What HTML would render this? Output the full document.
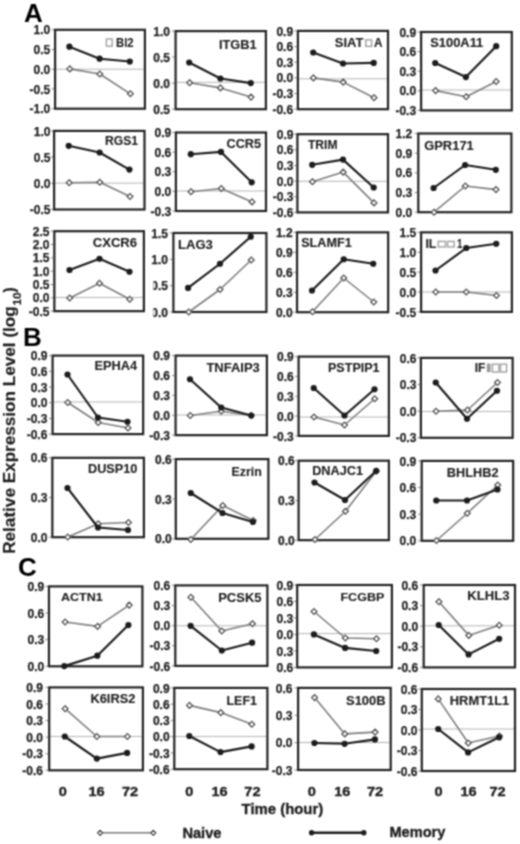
<!DOCTYPE html>
<html><head><meta charset="utf-8"><title>Figure</title>
<style>
html,body{margin:0;padding:0;background:#fff;}
body{width:520px;height:844px;overflow:hidden;}
svg{display:block;}
text{font-family:"Liberation Sans",sans-serif;font-weight:bold;stroke-width:0.35px;}
.t{font-size:12px;fill:#1e1e1e;stroke:#1e1e1e;stroke-width:0.25px;text-anchor:end;}
.tt{font-size:12px;fill:#1e1e1e;stroke:#1e1e1e;stroke-width:0.1px;}
.xl{font-size:13px;fill:#1e1e1e;stroke:#1e1e1e;text-anchor:middle;}
.sec{font-size:26px;fill:#000;}
.ax{font-size:14px;fill:#1e1e1e;stroke:#1e1e1e;}
.yl{font-size:16px;fill:#1e1e1e;stroke:#1e1e1e;stroke-width:0.15px;}
</style></head>
<body>
<svg width="520" height="844" viewBox="0 0 520 844">
<defs><filter id="bl" color-interpolation-filters="sRGB" x="0" y="0" width="520" height="844" filterUnits="userSpaceOnUse"><feConvolveMatrix order="3" kernelMatrix="1 2 1 2 4 2 1 2 1" divisor="16" edgeMode="duplicate"/></filter></defs><g filter="url(#bl)"><rect width="520" height="844" fill="#fff"/>
<line x1="56.2" y1="69.2" x2="143.8" y2="69.2" stroke="#b4b4b4" stroke-width="1.0"/>
<line x1="51.5" y1="29.8" x2="54" y2="29.8" stroke="#666" stroke-width="0.8"/>
<text x="50.3" y="34.4" class="t">1.0</text>
<line x1="51.5" y1="49.53" x2="54" y2="49.53" stroke="#666" stroke-width="0.8"/>
<text x="50.3" y="54.13" class="t">0.5</text>
<line x1="51.5" y1="69.25" x2="54" y2="69.25" stroke="#666" stroke-width="0.8"/>
<text x="50.3" y="73.85" class="t">0.0</text>
<line x1="51.5" y1="88.98" x2="54" y2="88.98" stroke="#666" stroke-width="0.8"/>
<text x="50.3" y="93.58" class="t">-0.5</text>
<line x1="51.5" y1="108.7" x2="54" y2="108.7" stroke="#666" stroke-width="0.8"/>
<text x="50.3" y="113.3" class="t">-1.0</text>
<rect x="55.1" y="29.8" width="89.8" height="78.9" fill="none" stroke="#222" stroke-width="2.2"/>
<rect x="106.4" y="39" width="5.8" height="7.2" fill="none" stroke="#a0a0a0" stroke-width="1.4"/>
<text x="116" y="46.52" class="tt" style="font-size:12px" textLength="17.6" lengthAdjust="spacingAndGlyphs">Bl2</text>
<polyline points="69.8,68.9 99.8,74 130.4,93.8" fill="none" stroke="#7e7e7e" stroke-width="1.6" stroke-linejoin="round"/>
<path d="M69.8 66L72.7 68.9L69.8 71.8L66.9 68.9Z" fill="#fff" stroke="#505050" stroke-width="1.3"/>
<path d="M99.8 71.1L102.7 74L99.8 76.9L96.9 74Z" fill="#fff" stroke="#505050" stroke-width="1.3"/>
<path d="M130.4 90.9L133.3 93.8L130.4 96.7L127.5 93.8Z" fill="#fff" stroke="#505050" stroke-width="1.3"/>
<polyline points="69.4,46.7 99.6,58.7 129.8,61.5" fill="none" stroke="#1c1c1c" stroke-width="2.15" stroke-linejoin="round"/>
<circle cx="69.4" cy="46.7" r="3.1" fill="#1c1c1c"/>
<circle cx="99.6" cy="58.7" r="3.1" fill="#1c1c1c"/>
<circle cx="129.8" cy="61.5" r="3.1" fill="#1c1c1c"/>
<line x1="176.7" y1="82.3" x2="264.8" y2="82.3" stroke="#b4b4b4" stroke-width="1.0"/>
<line x1="172" y1="31.1" x2="174.5" y2="31.1" stroke="#666" stroke-width="0.8"/>
<text x="169.9" y="35.7" class="t">1.0</text>
<line x1="172" y1="57.13" x2="174.5" y2="57.13" stroke="#666" stroke-width="0.8"/>
<text x="169.9" y="61.73" class="t">0.5</text>
<line x1="172" y1="83.17" x2="174.5" y2="83.17" stroke="#666" stroke-width="0.8"/>
<text x="169.9" y="87.77" class="t">0.0</text>
<line x1="172" y1="109.2" x2="174.5" y2="109.2" stroke="#666" stroke-width="0.8"/>
<text x="169.9" y="113.8" class="t">0.5</text>
<rect x="175.6" y="31.1" width="90.3" height="78.1" fill="none" stroke="#222" stroke-width="2.2"/>
<text x="218.9" y="48.82" class="tt" style="font-size:12px" textLength="37.8" lengthAdjust="spacingAndGlyphs">ITGB1</text>
<polyline points="189.6,82.7 220.4,87.9 251,97.1" fill="none" stroke="#7e7e7e" stroke-width="1.6" stroke-linejoin="round"/>
<path d="M189.6 79.8L192.5 82.7L189.6 85.6L186.7 82.7Z" fill="#fff" stroke="#505050" stroke-width="1.3"/>
<path d="M220.4 85L223.3 87.9L220.4 90.8L217.5 87.9Z" fill="#fff" stroke="#505050" stroke-width="1.3"/>
<path d="M251 94.2L253.9 97.1L251 100L248.1 97.1Z" fill="#fff" stroke="#505050" stroke-width="1.3"/>
<polyline points="189.2,62.5 220.4,78.5 250.8,83.1" fill="none" stroke="#1c1c1c" stroke-width="2.15" stroke-linejoin="round"/>
<circle cx="189.2" cy="62.5" r="3.1" fill="#1c1c1c"/>
<circle cx="220.4" cy="78.5" r="3.1" fill="#1c1c1c"/>
<circle cx="250.8" cy="83.1" r="3.1" fill="#1c1c1c"/>
<line x1="299" y1="78.8" x2="386.9" y2="78.8" stroke="#b4b4b4" stroke-width="1.0"/>
<line x1="294.3" y1="30.9" x2="296.8" y2="30.9" stroke="#666" stroke-width="0.8"/>
<text x="293.1" y="35.5" class="t">0.9</text>
<line x1="294.3" y1="46.56" x2="296.8" y2="46.56" stroke="#666" stroke-width="0.8"/>
<text x="293.1" y="51.16" class="t">0.6</text>
<line x1="294.3" y1="62.22" x2="296.8" y2="62.22" stroke="#666" stroke-width="0.8"/>
<text x="293.1" y="66.82" class="t">0.3</text>
<line x1="294.3" y1="77.88" x2="296.8" y2="77.88" stroke="#666" stroke-width="0.8"/>
<text x="293.1" y="82.48" class="t">0.0</text>
<line x1="294.3" y1="93.54" x2="296.8" y2="93.54" stroke="#666" stroke-width="0.8"/>
<text x="293.1" y="98.14" class="t">-0.3</text>
<line x1="294.3" y1="109.2" x2="296.8" y2="109.2" stroke="#666" stroke-width="0.8"/>
<text x="293.1" y="113.8" class="t">-0.6</text>
<rect x="297.9" y="30.9" width="90.1" height="78.3" fill="none" stroke="#222" stroke-width="2.2"/>
<text x="334.8" y="47.42" class="tt" style="font-size:12px" textLength="28.7" lengthAdjust="spacingAndGlyphs">SIAT</text>
<rect x="365.8" y="39.8" width="5.8" height="6.6" fill="none" stroke="#a0a0a0" stroke-width="1.4"/>
<text x="373.9" y="47.42" class="tt" style="font-size:12px" textLength="8.5" lengthAdjust="spacingAndGlyphs">A</text>
<polyline points="313.4,77.9 343.2,82.1 374,97.7" fill="none" stroke="#7e7e7e" stroke-width="1.6" stroke-linejoin="round"/>
<path d="M313.4 75L316.3 77.9L313.4 80.8L310.5 77.9Z" fill="#fff" stroke="#505050" stroke-width="1.3"/>
<path d="M343.2 79.2L346.1 82.1L343.2 85L340.3 82.1Z" fill="#fff" stroke="#505050" stroke-width="1.3"/>
<path d="M374 94.8L376.9 97.7L374 100.6L371.1 97.7Z" fill="#fff" stroke="#505050" stroke-width="1.3"/>
<polyline points="313.2,52.5 343,63.5 373.7,62.9" fill="none" stroke="#1c1c1c" stroke-width="2.15" stroke-linejoin="round"/>
<circle cx="313.2" cy="52.5" r="3.1" fill="#1c1c1c"/>
<circle cx="343" cy="63.5" r="3.1" fill="#1c1c1c"/>
<circle cx="373.7" cy="62.9" r="3.1" fill="#1c1c1c"/>
<line x1="422.2" y1="90" x2="510.7" y2="90" stroke="#b4b4b4" stroke-width="1.0"/>
<line x1="417.5" y1="32" x2="420" y2="32" stroke="#666" stroke-width="0.8"/>
<text x="416.1" y="36.6" class="t">0.9</text>
<line x1="417.5" y1="51.6" x2="420" y2="51.6" stroke="#666" stroke-width="0.8"/>
<text x="416.1" y="56.2" class="t">0.6</text>
<line x1="417.5" y1="71.2" x2="420" y2="71.2" stroke="#666" stroke-width="0.8"/>
<text x="416.1" y="75.8" class="t">0.3</text>
<line x1="417.5" y1="90.8" x2="420" y2="90.8" stroke="#666" stroke-width="0.8"/>
<text x="416.1" y="95.4" class="t">0.0</text>
<line x1="417.5" y1="110.4" x2="420" y2="110.4" stroke="#666" stroke-width="0.8"/>
<text x="416.1" y="115" class="t">-0.3</text>
<rect x="421.1" y="32" width="90.7" height="78.4" fill="none" stroke="#222" stroke-width="2.2"/>
<text x="430.2" y="46.82" class="tt" style="font-size:12px" textLength="53.1" lengthAdjust="spacingAndGlyphs">S100A11</text>
<polyline points="435.6,90.6 466.2,96.7 496.2,81.5" fill="none" stroke="#7e7e7e" stroke-width="1.6" stroke-linejoin="round"/>
<path d="M435.6 87.7L438.5 90.6L435.6 93.5L432.7 90.6Z" fill="#fff" stroke="#505050" stroke-width="1.3"/>
<path d="M466.2 93.8L469.1 96.7L466.2 99.6L463.3 96.7Z" fill="#fff" stroke="#505050" stroke-width="1.3"/>
<path d="M496.2 78.6L499.1 81.5L496.2 84.4L493.3 81.5Z" fill="#fff" stroke="#505050" stroke-width="1.3"/>
<polyline points="435.2,63 465.9,77.1 496.2,46.2" fill="none" stroke="#1c1c1c" stroke-width="2.15" stroke-linejoin="round"/>
<circle cx="435.2" cy="63" r="3.1" fill="#1c1c1c"/>
<circle cx="465.9" cy="77.1" r="3.1" fill="#1c1c1c"/>
<circle cx="496.2" cy="46.2" r="3.1" fill="#1c1c1c"/>
<line x1="55.2" y1="183.1" x2="143.4" y2="183.1" stroke="#b4b4b4" stroke-width="1.0"/>
<line x1="50.5" y1="130.9" x2="53" y2="130.9" stroke="#666" stroke-width="0.8"/>
<text x="50.5" y="135.5" class="t">1.0</text>
<line x1="50.5" y1="157.1" x2="53" y2="157.1" stroke="#666" stroke-width="0.8"/>
<text x="50.5" y="161.7" class="t">0.5</text>
<line x1="50.5" y1="183.3" x2="53" y2="183.3" stroke="#666" stroke-width="0.8"/>
<text x="50.5" y="187.9" class="t">0.0</text>
<line x1="50.5" y1="209.5" x2="53" y2="209.5" stroke="#666" stroke-width="0.8"/>
<text x="50.5" y="214.1" class="t">-0.5</text>
<rect x="54.1" y="130.9" width="90.4" height="78.6" fill="none" stroke="#222" stroke-width="2.2"/>
<text x="105" y="145.37" class="tt" style="font-size:12px" textLength="33.1" lengthAdjust="spacingAndGlyphs">RGS1</text>
<polyline points="69.2,182.7 99.8,182.3 130,196.5" fill="none" stroke="#7e7e7e" stroke-width="1.6" stroke-linejoin="round"/>
<path d="M69.2 179.8L72.1 182.7L69.2 185.6L66.3 182.7Z" fill="#fff" stroke="#505050" stroke-width="1.3"/>
<path d="M99.8 179.4L102.7 182.3L99.8 185.2L96.9 182.3Z" fill="#fff" stroke="#505050" stroke-width="1.3"/>
<path d="M130 193.6L132.9 196.5L130 199.4L127.1 196.5Z" fill="#fff" stroke="#505050" stroke-width="1.3"/>
<polyline points="68.7,145.8 99.6,152.5 129.4,169.6" fill="none" stroke="#1c1c1c" stroke-width="2.15" stroke-linejoin="round"/>
<circle cx="68.7" cy="145.8" r="3.1" fill="#1c1c1c"/>
<circle cx="99.6" cy="152.5" r="3.1" fill="#1c1c1c"/>
<circle cx="129.4" cy="169.6" r="3.1" fill="#1c1c1c"/>
<line x1="177" y1="191" x2="264.9" y2="191" stroke="#b4b4b4" stroke-width="1.0"/>
<line x1="172.3" y1="132.5" x2="174.8" y2="132.5" stroke="#666" stroke-width="0.8"/>
<text x="171.2" y="137.1" class="t">0.9</text>
<line x1="172.3" y1="152.12" x2="174.8" y2="152.12" stroke="#666" stroke-width="0.8"/>
<text x="171.2" y="156.72" class="t">0.6</text>
<line x1="172.3" y1="171.75" x2="174.8" y2="171.75" stroke="#666" stroke-width="0.8"/>
<text x="171.2" y="176.35" class="t">0.3</text>
<line x1="172.3" y1="191.38" x2="174.8" y2="191.38" stroke="#666" stroke-width="0.8"/>
<text x="171.2" y="195.97" class="t">0.0</text>
<line x1="172.3" y1="211" x2="174.8" y2="211" stroke="#666" stroke-width="0.8"/>
<text x="171.2" y="215.6" class="t">-0.3</text>
<rect x="175.9" y="132.5" width="90.1" height="78.5" fill="none" stroke="#222" stroke-width="2.2"/>
<text x="226.5" y="147.97" class="tt" style="font-size:12px" textLength="34.5" lengthAdjust="spacingAndGlyphs">CCR5</text>
<polyline points="191,191.7 221.3,188.5 252,201.9" fill="none" stroke="#7e7e7e" stroke-width="1.6" stroke-linejoin="round"/>
<path d="M191 188.8L193.9 191.7L191 194.6L188.1 191.7Z" fill="#fff" stroke="#505050" stroke-width="1.3"/>
<path d="M221.3 185.6L224.2 188.5L221.3 191.4L218.4 188.5Z" fill="#fff" stroke="#505050" stroke-width="1.3"/>
<path d="M252 199L254.9 201.9L252 204.8L249.1 201.9Z" fill="#fff" stroke="#505050" stroke-width="1.3"/>
<polyline points="190.8,154.2 221,151.9 251.7,182.3" fill="none" stroke="#1c1c1c" stroke-width="2.15" stroke-linejoin="round"/>
<circle cx="190.8" cy="154.2" r="3.1" fill="#1c1c1c"/>
<circle cx="221" cy="151.9" r="3.1" fill="#1c1c1c"/>
<circle cx="251.7" cy="182.3" r="3.1" fill="#1c1c1c"/>
<line x1="298.5" y1="181.3" x2="386.9" y2="181.3" stroke="#b4b4b4" stroke-width="1.0"/>
<line x1="293.8" y1="134.2" x2="296.3" y2="134.2" stroke="#666" stroke-width="0.8"/>
<text x="293.5" y="138.8" class="t">0.9</text>
<line x1="293.8" y1="149.84" x2="296.3" y2="149.84" stroke="#666" stroke-width="0.8"/>
<text x="293.5" y="154.44" class="t">0.6</text>
<line x1="293.8" y1="165.48" x2="296.3" y2="165.48" stroke="#666" stroke-width="0.8"/>
<text x="293.5" y="170.08" class="t">0.3</text>
<line x1="293.8" y1="181.12" x2="296.3" y2="181.12" stroke="#666" stroke-width="0.8"/>
<text x="293.5" y="185.72" class="t">0.0</text>
<line x1="293.8" y1="196.76" x2="296.3" y2="196.76" stroke="#666" stroke-width="0.8"/>
<text x="293.5" y="201.36" class="t">-0.3</text>
<line x1="293.8" y1="212.4" x2="296.3" y2="212.4" stroke="#666" stroke-width="0.8"/>
<text x="293.5" y="217" class="t">-0.6</text>
<rect x="297.4" y="134.2" width="90.6" height="78.2" fill="none" stroke="#222" stroke-width="2.2"/>
<text x="308" y="149.22" class="tt" style="font-size:12px" textLength="29.4" lengthAdjust="spacingAndGlyphs">TRIM</text>
<polyline points="312.4,181.7 343.2,172.1 374,202.9" fill="none" stroke="#7e7e7e" stroke-width="1.6" stroke-linejoin="round"/>
<path d="M312.4 178.8L315.3 181.7L312.4 184.6L309.5 181.7Z" fill="#fff" stroke="#505050" stroke-width="1.3"/>
<path d="M343.2 169.2L346.1 172.1L343.2 175L340.3 172.1Z" fill="#fff" stroke="#505050" stroke-width="1.3"/>
<path d="M374 200L376.9 202.9L374 205.8L371.1 202.9Z" fill="#fff" stroke="#505050" stroke-width="1.3"/>
<polyline points="312.2,164.8 343,159.6 373.7,187.5" fill="none" stroke="#1c1c1c" stroke-width="2.15" stroke-linejoin="round"/>
<circle cx="312.2" cy="164.8" r="3.1" fill="#1c1c1c"/>
<circle cx="343" cy="159.6" r="3.1" fill="#1c1c1c"/>
<circle cx="373.7" cy="187.5" r="3.1" fill="#1c1c1c"/>
<line x1="414.7" y1="133.5" x2="417.2" y2="133.5" stroke="#666" stroke-width="0.8"/>
<text x="412.3" y="138.1" class="t">1.2</text>
<line x1="414.7" y1="153.18" x2="417.2" y2="153.18" stroke="#666" stroke-width="0.8"/>
<text x="412.3" y="157.78" class="t">0.9</text>
<line x1="414.7" y1="172.85" x2="417.2" y2="172.85" stroke="#666" stroke-width="0.8"/>
<text x="412.3" y="177.45" class="t">0.6</text>
<line x1="414.7" y1="192.53" x2="417.2" y2="192.53" stroke="#666" stroke-width="0.8"/>
<text x="412.3" y="197.12" class="t">0.3</text>
<line x1="414.7" y1="212.2" x2="417.2" y2="212.2" stroke="#666" stroke-width="0.8"/>
<text x="412.3" y="216.8" class="t">0.0</text>
<rect x="418.3" y="133.5" width="93.1" height="78.7" fill="none" stroke="#222" stroke-width="2.2"/>
<text x="424.2" y="149.82" class="tt" style="font-size:12px" textLength="49.6" lengthAdjust="spacingAndGlyphs">GPR171</text>
<polyline points="434,212.2 465.3,186 496,189.6" fill="none" stroke="#7e7e7e" stroke-width="1.6" stroke-linejoin="round"/>
<path d="M434 209.3L436.9 212.2L434 215.1L431.1 212.2Z" fill="#fff" stroke="#505050" stroke-width="1.3"/>
<path d="M465.3 183.1L468.2 186L465.3 188.9L462.4 186Z" fill="#fff" stroke="#505050" stroke-width="1.3"/>
<path d="M496 186.7L498.9 189.6L496 192.5L493.1 189.6Z" fill="#fff" stroke="#505050" stroke-width="1.3"/>
<polyline points="433.6,188 465.1,165 495.8,169.8" fill="none" stroke="#1c1c1c" stroke-width="2.15" stroke-linejoin="round"/>
<circle cx="433.6" cy="188" r="3.1" fill="#1c1c1c"/>
<circle cx="465.1" cy="165" r="3.1" fill="#1c1c1c"/>
<circle cx="495.8" cy="169.8" r="3.1" fill="#1c1c1c"/>
<line x1="55.45" y1="297.5" x2="142.8" y2="297.5" stroke="#b4b4b4" stroke-width="1.0"/>
<line x1="50.75" y1="231.2" x2="53.25" y2="231.2" stroke="#666" stroke-width="0.8"/>
<text x="49.5" y="235.8" class="t">2.5</text>
<line x1="50.75" y1="244.52" x2="53.25" y2="244.52" stroke="#666" stroke-width="0.8"/>
<text x="49.5" y="249.12" class="t">2.0</text>
<line x1="50.75" y1="257.85" x2="53.25" y2="257.85" stroke="#666" stroke-width="0.8"/>
<text x="49.5" y="262.45" class="t">1.5</text>
<line x1="50.75" y1="271.17" x2="53.25" y2="271.17" stroke="#666" stroke-width="0.8"/>
<text x="49.5" y="275.77" class="t">1.0</text>
<line x1="50.75" y1="284.5" x2="53.25" y2="284.5" stroke="#666" stroke-width="0.8"/>
<text x="49.5" y="289.1" class="t">0.5</text>
<line x1="50.75" y1="297.82" x2="53.25" y2="297.82" stroke="#666" stroke-width="0.8"/>
<text x="49.5" y="302.43" class="t">0.0</text>
<line x1="50.75" y1="311.15" x2="53.25" y2="311.15" stroke="#666" stroke-width="0.8"/>
<text x="49.5" y="315.75" class="t">-0.5</text>
<rect x="54.35" y="231.2" width="89.55" height="79.95" fill="none" stroke="#222" stroke-width="2.2"/>
<text x="92.7" y="246.57" class="tt" style="font-size:12px" textLength="44.4" lengthAdjust="spacingAndGlyphs">CXCR6</text>
<polyline points="69.75,298 99.5,283.25 129.75,299.25" fill="none" stroke="#7e7e7e" stroke-width="1.6" stroke-linejoin="round"/>
<path d="M69.75 295.1L72.65 298L69.75 300.9L66.85 298Z" fill="#fff" stroke="#505050" stroke-width="1.3"/>
<path d="M99.5 280.35L102.4 283.25L99.5 286.15L96.6 283.25Z" fill="#fff" stroke="#505050" stroke-width="1.3"/>
<path d="M129.75 296.35L132.65 299.25L129.75 302.15L126.85 299.25Z" fill="#fff" stroke="#505050" stroke-width="1.3"/>
<polyline points="69.5,270 99.5,258.75 129.5,271.75" fill="none" stroke="#1c1c1c" stroke-width="2.15" stroke-linejoin="round"/>
<circle cx="69.5" cy="270" r="3.1" fill="#1c1c1c"/>
<circle cx="99.5" cy="258.75" r="3.1" fill="#1c1c1c"/>
<circle cx="129.5" cy="271.75" r="3.1" fill="#1c1c1c"/>
<line x1="169.8" y1="233" x2="172.3" y2="233" stroke="#666" stroke-width="0.8"/>
<text x="167.9" y="237.6" class="t">1.5</text>
<line x1="169.8" y1="259.33" x2="172.3" y2="259.33" stroke="#666" stroke-width="0.8"/>
<text x="167.9" y="263.93" class="t">1.0</text>
<line x1="169.8" y1="285.67" x2="172.3" y2="285.67" stroke="#666" stroke-width="0.8"/>
<text x="167.9" y="290.27" class="t">0.5</text>
<line x1="169.8" y1="312" x2="172.3" y2="312" stroke="#666" stroke-width="0.8"/>
<text x="167.9" y="316.6" class="t">0.0</text>
<rect x="173.4" y="233" width="93" height="79" fill="none" stroke="#222" stroke-width="2.2"/>
<text x="178" y="248.52" class="tt" style="font-size:12px" textLength="34.9" lengthAdjust="spacingAndGlyphs">LAG3</text>
<polyline points="188.75,312 220,289.5 251.25,260" fill="none" stroke="#7e7e7e" stroke-width="1.6" stroke-linejoin="round"/>
<path d="M188.75 309.1L191.65 312L188.75 314.9L185.85 312Z" fill="#fff" stroke="#505050" stroke-width="1.3"/>
<path d="M220 286.6L222.9 289.5L220 292.4L217.1 289.5Z" fill="#fff" stroke="#505050" stroke-width="1.3"/>
<path d="M251.25 257.1L254.15 260L251.25 262.9L248.35 260Z" fill="#fff" stroke="#505050" stroke-width="1.3"/>
<polyline points="188.1,287.9 220,263.75 250.75,236.75" fill="none" stroke="#1c1c1c" stroke-width="2.15" stroke-linejoin="round"/>
<circle cx="188.1" cy="287.9" r="3.1" fill="#1c1c1c"/>
<circle cx="220" cy="263.75" r="3.1" fill="#1c1c1c"/>
<circle cx="250.75" cy="236.75" r="3.1" fill="#1c1c1c"/>
<line x1="293.45" y1="232.35" x2="295.95" y2="232.35" stroke="#666" stroke-width="0.8"/>
<text x="292.6" y="236.95" class="t">1.2</text>
<line x1="293.45" y1="252.31" x2="295.95" y2="252.31" stroke="#666" stroke-width="0.8"/>
<text x="292.6" y="256.91" class="t">0.9</text>
<line x1="293.45" y1="272.27" x2="295.95" y2="272.27" stroke="#666" stroke-width="0.8"/>
<text x="292.6" y="276.88" class="t">0.6</text>
<line x1="293.45" y1="292.24" x2="295.95" y2="292.24" stroke="#666" stroke-width="0.8"/>
<text x="292.6" y="296.84" class="t">0.3</text>
<line x1="293.45" y1="312.2" x2="295.95" y2="312.2" stroke="#666" stroke-width="0.8"/>
<text x="292.6" y="316.8" class="t">0.0</text>
<rect x="297.05" y="232.35" width="91.1" height="79.85" fill="none" stroke="#222" stroke-width="2.2"/>
<text x="301.2" y="246.82" class="tt" style="font-size:12px" textLength="50.6" lengthAdjust="spacingAndGlyphs">SLAMF1</text>
<polyline points="312.5,311.75 343.75,278 373.75,302" fill="none" stroke="#7e7e7e" stroke-width="1.6" stroke-linejoin="round"/>
<path d="M312.5 308.85L315.4 311.75L312.5 314.65L309.6 311.75Z" fill="#fff" stroke="#505050" stroke-width="1.3"/>
<path d="M343.75 275.1L346.65 278L343.75 280.9L340.85 278Z" fill="#fff" stroke="#505050" stroke-width="1.3"/>
<path d="M373.75 299.1L376.65 302L373.75 304.9L370.85 302Z" fill="#fff" stroke="#505050" stroke-width="1.3"/>
<polyline points="312,290.5 343.75,259.25 373.25,263.75" fill="none" stroke="#1c1c1c" stroke-width="2.15" stroke-linejoin="round"/>
<circle cx="312" cy="290.5" r="3.1" fill="#1c1c1c"/>
<circle cx="343.75" cy="259.25" r="3.1" fill="#1c1c1c"/>
<circle cx="373.25" cy="263.75" r="3.1" fill="#1c1c1c"/>
<line x1="422.2" y1="292" x2="510.8" y2="292" stroke="#b4b4b4" stroke-width="1.0"/>
<line x1="417.5" y1="232.35" x2="420" y2="232.35" stroke="#666" stroke-width="0.8"/>
<text x="416.25" y="236.95" class="t">1.5</text>
<line x1="417.5" y1="252.24" x2="420" y2="252.24" stroke="#666" stroke-width="0.8"/>
<text x="416.25" y="256.84" class="t">1.0</text>
<line x1="417.5" y1="272.12" x2="420" y2="272.12" stroke="#666" stroke-width="0.8"/>
<text x="416.25" y="276.73" class="t">0.5</text>
<line x1="417.5" y1="292.01" x2="420" y2="292.01" stroke="#666" stroke-width="0.8"/>
<text x="416.25" y="296.61" class="t">0.0</text>
<line x1="417.5" y1="311.9" x2="420" y2="311.9" stroke="#666" stroke-width="0.8"/>
<text x="416.25" y="316.5" class="t">-0.5</text>
<rect x="421.1" y="232.35" width="90.8" height="79.55" fill="none" stroke="#222" stroke-width="2.2"/>
<text x="425.4" y="247.62" class="tt" style="font-size:12px" textLength="11" lengthAdjust="spacingAndGlyphs">IL</text>
<rect x="438.2" y="241.4" width="7.3" height="5.5" fill="none" stroke="#a0a0a0" stroke-width="1.4"/>
<rect x="447.5" y="241.4" width="6.7" height="5.5" fill="none" stroke="#a0a0a0" stroke-width="1.4"/>
<text x="457" y="247.62" class="tt" style="font-size:12px" textLength="5.4" lengthAdjust="spacingAndGlyphs">1</text>
<polyline points="435.75,292 466.25,292 496.5,295.5" fill="none" stroke="#7e7e7e" stroke-width="1.6" stroke-linejoin="round"/>
<path d="M435.75 289.1L438.65 292L435.75 294.9L432.85 292Z" fill="#fff" stroke="#505050" stroke-width="1.3"/>
<path d="M466.25 289.1L469.15 292L466.25 294.9L463.35 292Z" fill="#fff" stroke="#505050" stroke-width="1.3"/>
<path d="M496.5 292.6L499.4 295.5L496.5 298.4L493.6 295.5Z" fill="#fff" stroke="#505050" stroke-width="1.3"/>
<polyline points="435.5,270.5 466.25,248 496.25,243.75" fill="none" stroke="#1c1c1c" stroke-width="2.15" stroke-linejoin="round"/>
<circle cx="435.5" cy="270.5" r="3.1" fill="#1c1c1c"/>
<circle cx="466.25" cy="248" r="3.1" fill="#1c1c1c"/>
<circle cx="496.25" cy="243.75" r="3.1" fill="#1c1c1c"/>
<line x1="53.7" y1="402" x2="142.05" y2="402" stroke="#b4b4b4" stroke-width="1.0"/>
<line x1="49" y1="355.6" x2="51.5" y2="355.6" stroke="#666" stroke-width="0.8"/>
<text x="47.4" y="360.2" class="t">0.9</text>
<line x1="49" y1="371.3" x2="51.5" y2="371.3" stroke="#666" stroke-width="0.8"/>
<text x="47.4" y="375.9" class="t">0.6</text>
<line x1="49" y1="387" x2="51.5" y2="387" stroke="#666" stroke-width="0.8"/>
<text x="47.4" y="391.6" class="t">0.3</text>
<line x1="49" y1="402.7" x2="51.5" y2="402.7" stroke="#666" stroke-width="0.8"/>
<text x="47.4" y="407.3" class="t">0.0</text>
<line x1="49" y1="418.4" x2="51.5" y2="418.4" stroke="#666" stroke-width="0.8"/>
<text x="47.4" y="423" class="t">-0.3</text>
<line x1="49" y1="434.1" x2="51.5" y2="434.1" stroke="#666" stroke-width="0.8"/>
<text x="47.4" y="438.7" class="t">-0.6</text>
<rect x="52.6" y="355.6" width="90.55" height="78.5" fill="none" stroke="#222" stroke-width="2.2"/>
<text x="94.5" y="370.32" class="tt" style="font-size:12px" textLength="42.7" lengthAdjust="spacingAndGlyphs">EPHA4</text>
<polyline points="67.75,402.5 98.25,422.5 128,428" fill="none" stroke="#7e7e7e" stroke-width="1.6" stroke-linejoin="round"/>
<path d="M67.75 399.6L70.65 402.5L67.75 405.4L64.85 402.5Z" fill="#fff" stroke="#505050" stroke-width="1.3"/>
<path d="M98.25 419.6L101.15 422.5L98.25 425.4L95.35 422.5Z" fill="#fff" stroke="#505050" stroke-width="1.3"/>
<path d="M128 425.1L130.9 428L128 430.9L125.1 428Z" fill="#fff" stroke="#505050" stroke-width="1.3"/>
<polyline points="67.5,374.5 98,417.5 127.5,421.75" fill="none" stroke="#1c1c1c" stroke-width="2.15" stroke-linejoin="round"/>
<circle cx="67.5" cy="374.5" r="3.1" fill="#1c1c1c"/>
<circle cx="98" cy="417.5" r="3.1" fill="#1c1c1c"/>
<circle cx="127.5" cy="421.75" r="3.1" fill="#1c1c1c"/>
<line x1="176.7" y1="415" x2="265.8" y2="415" stroke="#b4b4b4" stroke-width="1.0"/>
<line x1="172" y1="355.6" x2="174.5" y2="355.6" stroke="#666" stroke-width="0.8"/>
<text x="170" y="360.2" class="t">0.9</text>
<line x1="172" y1="375.49" x2="174.5" y2="375.49" stroke="#666" stroke-width="0.8"/>
<text x="170" y="380.09" class="t">0.6</text>
<line x1="172" y1="395.38" x2="174.5" y2="395.38" stroke="#666" stroke-width="0.8"/>
<text x="170" y="399.98" class="t">0.3</text>
<line x1="172" y1="415.26" x2="174.5" y2="415.26" stroke="#666" stroke-width="0.8"/>
<text x="170" y="419.86" class="t">0.0</text>
<line x1="172" y1="435.15" x2="174.5" y2="435.15" stroke="#666" stroke-width="0.8"/>
<text x="170" y="439.75" class="t">-0.3</text>
<rect x="175.6" y="355.6" width="91.3" height="79.55" fill="none" stroke="#222" stroke-width="2.2"/>
<text x="206.4" y="372.02" class="tt" style="font-size:12px" textLength="53.4" lengthAdjust="spacingAndGlyphs">TNFAIP3</text>
<polyline points="190.25,415.5 221.25,411.25 251.25,415.5" fill="none" stroke="#7e7e7e" stroke-width="1.6" stroke-linejoin="round"/>
<path d="M190.25 412.6L193.15 415.5L190.25 418.4L187.35 415.5Z" fill="#fff" stroke="#505050" stroke-width="1.3"/>
<path d="M221.25 408.35L224.15 411.25L221.25 414.15L218.35 411.25Z" fill="#fff" stroke="#505050" stroke-width="1.3"/>
<path d="M251.25 412.6L254.15 415.5L251.25 418.4L248.35 415.5Z" fill="#fff" stroke="#505050" stroke-width="1.3"/>
<polyline points="190,379.25 221.25,407.5 251.25,415.5" fill="none" stroke="#1c1c1c" stroke-width="2.15" stroke-linejoin="round"/>
<circle cx="190" cy="379.25" r="3.1" fill="#1c1c1c"/>
<circle cx="221.25" cy="407.5" r="3.1" fill="#1c1c1c"/>
<circle cx="251.25" cy="415.5" r="3.1" fill="#1c1c1c"/>
<line x1="299.7" y1="417" x2="387.8" y2="417" stroke="#b4b4b4" stroke-width="1.0"/>
<line x1="295" y1="356.6" x2="297.5" y2="356.6" stroke="#666" stroke-width="0.8"/>
<text x="293.75" y="361.2" class="t">0.9</text>
<line x1="295" y1="376.43" x2="297.5" y2="376.43" stroke="#666" stroke-width="0.8"/>
<text x="293.75" y="381.03" class="t">0.6</text>
<line x1="295" y1="396.25" x2="297.5" y2="396.25" stroke="#666" stroke-width="0.8"/>
<text x="293.75" y="400.85" class="t">0.3</text>
<line x1="295" y1="416.07" x2="297.5" y2="416.07" stroke="#666" stroke-width="0.8"/>
<text x="293.75" y="420.68" class="t">0.0</text>
<line x1="295" y1="435.9" x2="297.5" y2="435.9" stroke="#666" stroke-width="0.8"/>
<text x="293.75" y="440.5" class="t">-0.3</text>
<rect x="298.6" y="356.6" width="90.3" height="79.3" fill="none" stroke="#222" stroke-width="2.2"/>
<text x="328" y="372.32" class="tt" style="font-size:12px" textLength="51.6" lengthAdjust="spacingAndGlyphs">PSTPIP1</text>
<polyline points="314,417 344.5,425 374.75,398.75" fill="none" stroke="#7e7e7e" stroke-width="1.6" stroke-linejoin="round"/>
<path d="M314 414.1L316.9 417L314 419.9L311.1 417Z" fill="#fff" stroke="#505050" stroke-width="1.3"/>
<path d="M344.5 422.1L347.4 425L344.5 427.9L341.6 425Z" fill="#fff" stroke="#505050" stroke-width="1.3"/>
<path d="M374.75 395.85L377.65 398.75L374.75 401.65L371.85 398.75Z" fill="#fff" stroke="#505050" stroke-width="1.3"/>
<polyline points="313.75,388 344.5,415.5 374.5,389.25" fill="none" stroke="#1c1c1c" stroke-width="2.15" stroke-linejoin="round"/>
<circle cx="313.75" cy="388" r="3.1" fill="#1c1c1c"/>
<circle cx="344.5" cy="415.5" r="3.1" fill="#1c1c1c"/>
<circle cx="374.5" cy="389.25" r="3.1" fill="#1c1c1c"/>
<line x1="422" y1="411.5" x2="511.55" y2="411.5" stroke="#b4b4b4" stroke-width="1.0"/>
<line x1="417.3" y1="357.9" x2="419.8" y2="357.9" stroke="#666" stroke-width="0.8"/>
<text x="416.4" y="362.5" class="t">0.6</text>
<line x1="417.3" y1="384.53" x2="419.8" y2="384.53" stroke="#666" stroke-width="0.8"/>
<text x="416.4" y="389.13" class="t">0.3</text>
<line x1="417.3" y1="411.17" x2="419.8" y2="411.17" stroke="#666" stroke-width="0.8"/>
<text x="416.4" y="415.77" class="t">0.0</text>
<line x1="417.3" y1="437.8" x2="419.8" y2="437.8" stroke="#666" stroke-width="0.8"/>
<text x="416.4" y="442.4" class="t">-0.3</text>
<rect x="420.9" y="357.9" width="91.75" height="79.9" fill="none" stroke="#222" stroke-width="2.2"/>
<text x="474.8" y="372.02" class="tt" style="font-size:12px" textLength="10.6" lengthAdjust="spacingAndGlyphs">IF</text>
<rect x="486.8" y="363.6" width="3.8" height="8.6" fill="#9a9a9a"/>
<rect x="492.4" y="364.2" width="6.5" height="7.8" fill="none" stroke="#a0a0a0" stroke-width="1.4"/>
<rect x="500.5" y="364.2" width="6.1" height="7.8" fill="none" stroke="#a0a0a0" stroke-width="1.4"/>
<polyline points="436,411.25 467.5,410 497.5,382.5" fill="none" stroke="#7e7e7e" stroke-width="1.6" stroke-linejoin="round"/>
<path d="M436 408.35L438.9 411.25L436 414.15L433.1 411.25Z" fill="#fff" stroke="#505050" stroke-width="1.3"/>
<path d="M467.5 407.1L470.4 410L467.5 412.9L464.6 410Z" fill="#fff" stroke="#505050" stroke-width="1.3"/>
<path d="M497.5 379.6L500.4 382.5L497.5 385.4L494.6 382.5Z" fill="#fff" stroke="#505050" stroke-width="1.3"/>
<polyline points="435.75,382.5 467,418.75 497,390.75" fill="none" stroke="#1c1c1c" stroke-width="2.15" stroke-linejoin="round"/>
<circle cx="435.75" cy="382.5" r="3.1" fill="#1c1c1c"/>
<circle cx="467" cy="418.75" r="3.1" fill="#1c1c1c"/>
<circle cx="497" cy="390.75" r="3.1" fill="#1c1c1c"/>
<line x1="48.75" y1="457.8" x2="51.25" y2="457.8" stroke="#666" stroke-width="0.8"/>
<text x="47.5" y="462.4" class="t">0.6</text>
<line x1="48.75" y1="497.5" x2="51.25" y2="497.5" stroke="#666" stroke-width="0.8"/>
<text x="47.5" y="502.1" class="t">0.3</text>
<line x1="48.75" y1="537.2" x2="51.25" y2="537.2" stroke="#666" stroke-width="0.8"/>
<text x="47.5" y="541.8" class="t">0.0</text>
<rect x="52.35" y="457.8" width="91.55" height="79.4" fill="none" stroke="#222" stroke-width="2.2"/>
<text x="88" y="473.32" class="tt" style="font-size:12px" textLength="49.4" lengthAdjust="spacingAndGlyphs">DUSP10</text>
<polyline points="67.75,537 98.25,523.75 128.5,522.5" fill="none" stroke="#7e7e7e" stroke-width="1.6" stroke-linejoin="round"/>
<path d="M67.75 534.1L70.65 537L67.75 539.9L64.85 537Z" fill="#fff" stroke="#505050" stroke-width="1.3"/>
<path d="M98.25 520.85L101.15 523.75L98.25 526.65L95.35 523.75Z" fill="#fff" stroke="#505050" stroke-width="1.3"/>
<path d="M128.5 519.6L131.4 522.5L128.5 525.4L125.6 522.5Z" fill="#fff" stroke="#505050" stroke-width="1.3"/>
<polyline points="67.5,488 98,527.5 128,530" fill="none" stroke="#1c1c1c" stroke-width="2.15" stroke-linejoin="round"/>
<circle cx="67.5" cy="488" r="3.1" fill="#1c1c1c"/>
<circle cx="98" cy="527.5" r="3.1" fill="#1c1c1c"/>
<circle cx="128" cy="530" r="3.1" fill="#1c1c1c"/>
<line x1="172.2" y1="459.1" x2="174.7" y2="459.1" stroke="#666" stroke-width="0.8"/>
<text x="171.7" y="463.7" class="t">0.6</text>
<line x1="172.2" y1="498.95" x2="174.7" y2="498.95" stroke="#666" stroke-width="0.8"/>
<text x="171.7" y="503.55" class="t">0.3</text>
<line x1="172.2" y1="538.8" x2="174.7" y2="538.8" stroke="#666" stroke-width="0.8"/>
<text x="171.7" y="543.4" class="t">0.0</text>
<rect x="175.8" y="459.1" width="92.6" height="79.7" fill="none" stroke="#222" stroke-width="2.2"/>
<text x="231.6" y="475.62" class="tt" style="font-size:12px" textLength="30.2" lengthAdjust="spacingAndGlyphs">Ezrin</text>
<polyline points="190.75,539.5 222.75,505.5 253.25,520.5" fill="none" stroke="#7e7e7e" stroke-width="1.6" stroke-linejoin="round"/>
<path d="M190.75 536.6L193.65 539.5L190.75 542.4L187.85 539.5Z" fill="#fff" stroke="#505050" stroke-width="1.3"/>
<path d="M222.75 502.6L225.65 505.5L222.75 508.4L219.85 505.5Z" fill="#fff" stroke="#505050" stroke-width="1.3"/>
<path d="M253.25 517.6L256.15 520.5L253.25 523.4L250.35 520.5Z" fill="#fff" stroke="#505050" stroke-width="1.3"/>
<polyline points="190.75,493 222.5,513 253,522" fill="none" stroke="#1c1c1c" stroke-width="2.15" stroke-linejoin="round"/>
<circle cx="190.75" cy="493" r="3.1" fill="#1c1c1c"/>
<circle cx="222.5" cy="513" r="3.1" fill="#1c1c1c"/>
<circle cx="253" cy="522" r="3.1" fill="#1c1c1c"/>
<line x1="295" y1="460.7" x2="297.5" y2="460.7" stroke="#666" stroke-width="0.8"/>
<text x="294.8" y="465.3" class="t">0.6</text>
<line x1="295" y1="500.43" x2="297.5" y2="500.43" stroke="#666" stroke-width="0.8"/>
<text x="294.8" y="505.03" class="t">0.3</text>
<line x1="295" y1="540.15" x2="297.5" y2="540.15" stroke="#666" stroke-width="0.8"/>
<text x="294.8" y="544.75" class="t">0.0</text>
<rect x="298.6" y="460.7" width="90.3" height="79.45" fill="none" stroke="#222" stroke-width="2.2"/>
<text x="312.2" y="475.12" class="tt" style="font-size:12px" textLength="50.8" lengthAdjust="spacingAndGlyphs">DNAJC1</text>
<polyline points="315,539.5 345.5,511.25 376.25,471.25" fill="none" stroke="#7e7e7e" stroke-width="1.6" stroke-linejoin="round"/>
<path d="M315 536.6L317.9 539.5L315 542.4L312.1 539.5Z" fill="#fff" stroke="#505050" stroke-width="1.3"/>
<path d="M345.5 508.35L348.4 511.25L345.5 514.15L342.6 511.25Z" fill="#fff" stroke="#505050" stroke-width="1.3"/>
<path d="M376.25 468.35L379.15 471.25L376.25 474.15L373.35 471.25Z" fill="#fff" stroke="#505050" stroke-width="1.3"/>
<polyline points="314.5,482.5 345,500 376.25,470.75" fill="none" stroke="#1c1c1c" stroke-width="2.15" stroke-linejoin="round"/>
<circle cx="314.5" cy="482.5" r="3.1" fill="#1c1c1c"/>
<circle cx="345" cy="500" r="3.1" fill="#1c1c1c"/>
<circle cx="376.25" cy="470.75" r="3.1" fill="#1c1c1c"/>
<line x1="418.1" y1="460.9" x2="420.6" y2="460.9" stroke="#666" stroke-width="0.8"/>
<text x="416.25" y="465.5" class="t">0.9</text>
<line x1="418.1" y1="487.53" x2="420.6" y2="487.53" stroke="#666" stroke-width="0.8"/>
<text x="416.25" y="492.13" class="t">0.6</text>
<line x1="418.1" y1="514.17" x2="420.6" y2="514.17" stroke="#666" stroke-width="0.8"/>
<text x="416.25" y="518.77" class="t">0.3</text>
<line x1="418.1" y1="540.8" x2="420.6" y2="540.8" stroke="#666" stroke-width="0.8"/>
<text x="416.25" y="545.4" class="t">0.0</text>
<rect x="421.7" y="460.9" width="91.45" height="79.9" fill="none" stroke="#222" stroke-width="2.2"/>
<text x="446.8" y="476.67" class="tt" style="font-size:12px" textLength="51.8" lengthAdjust="spacingAndGlyphs">BHLHB2</text>
<polyline points="436.5,540.5 467.25,513.25 497.75,485" fill="none" stroke="#7e7e7e" stroke-width="1.6" stroke-linejoin="round"/>
<path d="M436.5 537.6L439.4 540.5L436.5 543.4L433.6 540.5Z" fill="#fff" stroke="#505050" stroke-width="1.3"/>
<path d="M467.25 510.35L470.15 513.25L467.25 516.15L464.35 513.25Z" fill="#fff" stroke="#505050" stroke-width="1.3"/>
<path d="M497.75 482.1L500.65 485L497.75 487.9L494.85 485Z" fill="#fff" stroke="#505050" stroke-width="1.3"/>
<polyline points="436.25,500.5 467,500.5 497.5,489.5" fill="none" stroke="#1c1c1c" stroke-width="2.15" stroke-linejoin="round"/>
<circle cx="436.25" cy="500.5" r="3.1" fill="#1c1c1c"/>
<circle cx="467" cy="500.5" r="3.1" fill="#1c1c1c"/>
<circle cx="497.5" cy="489.5" r="3.1" fill="#1c1c1c"/>
<line x1="45.35" y1="586.4" x2="47.85" y2="586.4" stroke="#666" stroke-width="0.8"/>
<text x="44.3" y="591" class="t">0.9</text>
<line x1="45.35" y1="613.03" x2="47.85" y2="613.03" stroke="#666" stroke-width="0.8"/>
<text x="44.3" y="617.63" class="t">0.6</text>
<line x1="45.35" y1="639.67" x2="47.85" y2="639.67" stroke="#666" stroke-width="0.8"/>
<text x="44.3" y="644.27" class="t">0.3</text>
<line x1="45.35" y1="666.3" x2="47.85" y2="666.3" stroke="#666" stroke-width="0.8"/>
<text x="44.3" y="670.9" class="t">0.0</text>
<rect x="48.95" y="586.4" width="93.45" height="79.9" fill="none" stroke="#222" stroke-width="2.2"/>
<text x="61" y="601.16" class="tt" style="font-size:11px" textLength="41.8" lengthAdjust="spacingAndGlyphs">ACTN1</text>
<polyline points="65.1,622 97.6,626.4 129.2,605.1" fill="none" stroke="#7e7e7e" stroke-width="1.6" stroke-linejoin="round"/>
<path d="M65.1 619.1L68 622L65.1 624.9L62.2 622Z" fill="#fff" stroke="#505050" stroke-width="1.3"/>
<path d="M97.6 623.5L100.5 626.4L97.6 629.3L94.7 626.4Z" fill="#fff" stroke="#505050" stroke-width="1.3"/>
<path d="M129.2 602.2L132.1 605.1L129.2 608L126.3 605.1Z" fill="#fff" stroke="#505050" stroke-width="1.3"/>
<polyline points="64.3,666.1 97.3,655.7 128.4,625.1" fill="none" stroke="#1c1c1c" stroke-width="2.15" stroke-linejoin="round"/>
<circle cx="64.3" cy="666.1" r="3.1" fill="#1c1c1c"/>
<circle cx="97.3" cy="655.7" r="3.1" fill="#1c1c1c"/>
<circle cx="128.4" cy="625.1" r="3.1" fill="#1c1c1c"/>
<line x1="176.4" y1="625.8" x2="266.3" y2="625.8" stroke="#b4b4b4" stroke-width="1.0"/>
<line x1="171.7" y1="585.4" x2="174.2" y2="585.4" stroke="#666" stroke-width="0.8"/>
<text x="170.3" y="590" class="t">0.6</text>
<line x1="171.7" y1="605.52" x2="174.2" y2="605.52" stroke="#666" stroke-width="0.8"/>
<text x="170.3" y="610.12" class="t">0.3</text>
<line x1="171.7" y1="625.65" x2="174.2" y2="625.65" stroke="#666" stroke-width="0.8"/>
<text x="170.3" y="630.25" class="t">0.0</text>
<line x1="171.7" y1="645.77" x2="174.2" y2="645.77" stroke="#666" stroke-width="0.8"/>
<text x="170.3" y="650.38" class="t">-0.3</text>
<line x1="171.7" y1="665.9" x2="174.2" y2="665.9" stroke="#666" stroke-width="0.8"/>
<text x="170.3" y="670.5" class="t">-0.6</text>
<rect x="175.3" y="585.4" width="92.1" height="80.5" fill="none" stroke="#222" stroke-width="2.2"/>
<text x="218.2" y="602.07" class="tt" style="font-size:12px" textLength="43.4" lengthAdjust="spacingAndGlyphs">PCSK5</text>
<polyline points="190.9,597.3 221.8,631 252.4,623.7" fill="none" stroke="#7e7e7e" stroke-width="1.6" stroke-linejoin="round"/>
<path d="M190.9 594.4L193.8 597.3L190.9 600.2L188 597.3Z" fill="#fff" stroke="#505050" stroke-width="1.3"/>
<path d="M221.8 628.1L224.7 631L221.8 633.9L218.9 631Z" fill="#fff" stroke="#505050" stroke-width="1.3"/>
<path d="M252.4 620.8L255.3 623.7L252.4 626.6L249.5 623.7Z" fill="#fff" stroke="#505050" stroke-width="1.3"/>
<polyline points="190.6,625.8 221.8,650.5 252.1,642.7" fill="none" stroke="#1c1c1c" stroke-width="2.15" stroke-linejoin="round"/>
<circle cx="190.6" cy="625.8" r="3.1" fill="#1c1c1c"/>
<circle cx="221.8" cy="650.5" r="3.1" fill="#1c1c1c"/>
<circle cx="252.1" cy="642.7" r="3.1" fill="#1c1c1c"/>
<line x1="298.3" y1="633.6" x2="390.8" y2="633.6" stroke="#b4b4b4" stroke-width="1.0"/>
<line x1="293.6" y1="585" x2="296.1" y2="585" stroke="#666" stroke-width="0.8"/>
<text x="293.2" y="589.6" class="t">0.9</text>
<line x1="293.6" y1="601.48" x2="296.1" y2="601.48" stroke="#666" stroke-width="0.8"/>
<text x="293.2" y="606.08" class="t">0.6</text>
<line x1="293.6" y1="617.96" x2="296.1" y2="617.96" stroke="#666" stroke-width="0.8"/>
<text x="293.2" y="622.56" class="t">0.3</text>
<line x1="293.6" y1="634.44" x2="296.1" y2="634.44" stroke="#666" stroke-width="0.8"/>
<text x="293.2" y="639.04" class="t">0.0</text>
<line x1="293.6" y1="650.92" x2="296.1" y2="650.92" stroke="#666" stroke-width="0.8"/>
<text x="293.2" y="655.52" class="t">0.3</text>
<line x1="293.6" y1="667.4" x2="296.1" y2="667.4" stroke="#666" stroke-width="0.8"/>
<text x="293.2" y="672" class="t">0.6</text>
<rect x="297.2" y="585" width="94.7" height="82.4" fill="none" stroke="#222" stroke-width="2.2"/>
<text x="340.4" y="601.46" class="tt" style="font-size:11px" textLength="44" lengthAdjust="spacingAndGlyphs">FCGBP</text>
<polyline points="314,611.5 345.3,638 376.5,638.8" fill="none" stroke="#7e7e7e" stroke-width="1.6" stroke-linejoin="round"/>
<path d="M314 608.6L316.9 611.5L314 614.4L311.1 611.5Z" fill="#fff" stroke="#505050" stroke-width="1.3"/>
<path d="M345.3 635.1L348.2 638L345.3 640.9L342.4 638Z" fill="#fff" stroke="#505050" stroke-width="1.3"/>
<path d="M376.5 635.9L379.4 638.8L376.5 641.7L373.6 638.8Z" fill="#fff" stroke="#505050" stroke-width="1.3"/>
<polyline points="313.9,634.4 345.1,647.9 376.2,651" fill="none" stroke="#1c1c1c" stroke-width="2.15" stroke-linejoin="round"/>
<circle cx="313.9" cy="634.4" r="3.1" fill="#1c1c1c"/>
<circle cx="345.1" cy="647.9" r="3.1" fill="#1c1c1c"/>
<circle cx="376.2" cy="651" r="3.1" fill="#1c1c1c"/>
<line x1="424.8" y1="625.8" x2="513.9" y2="625.8" stroke="#b4b4b4" stroke-width="1.0"/>
<line x1="420.1" y1="585" x2="422.6" y2="585" stroke="#666" stroke-width="0.8"/>
<text x="418.1" y="589.6" class="t">0.6</text>
<line x1="420.1" y1="605.6" x2="422.6" y2="605.6" stroke="#666" stroke-width="0.8"/>
<text x="418.1" y="610.2" class="t">0.3</text>
<line x1="420.1" y1="626.2" x2="422.6" y2="626.2" stroke="#666" stroke-width="0.8"/>
<text x="418.1" y="630.8" class="t">0.0</text>
<line x1="420.1" y1="646.8" x2="422.6" y2="646.8" stroke="#666" stroke-width="0.8"/>
<text x="418.1" y="651.4" class="t">-0.3</text>
<line x1="420.1" y1="667.4" x2="422.6" y2="667.4" stroke="#666" stroke-width="0.8"/>
<text x="418.1" y="672" class="t">-0.6</text>
<rect x="423.7" y="585" width="91.3" height="82.4" fill="none" stroke="#222" stroke-width="2.2"/>
<text x="467.2" y="599.57" class="tt" style="font-size:12px" textLength="42.4" lengthAdjust="spacingAndGlyphs">KLHL3</text>
<polyline points="438.9,601.7 468.8,635.4 499.2,625.3" fill="none" stroke="#7e7e7e" stroke-width="1.6" stroke-linejoin="round"/>
<path d="M438.9 598.8L441.8 601.7L438.9 604.6L436 601.7Z" fill="#fff" stroke="#505050" stroke-width="1.3"/>
<path d="M468.8 632.5L471.7 635.4L468.8 638.3L465.9 635.4Z" fill="#fff" stroke="#505050" stroke-width="1.3"/>
<path d="M499.2 622.4L502.1 625.3L499.2 628.2L496.3 625.3Z" fill="#fff" stroke="#505050" stroke-width="1.3"/>
<polyline points="438.7,625 468.6,654.4 499.2,638.8" fill="none" stroke="#1c1c1c" stroke-width="2.15" stroke-linejoin="round"/>
<circle cx="438.7" cy="625" r="3.1" fill="#1c1c1c"/>
<circle cx="468.6" cy="654.4" r="3.1" fill="#1c1c1c"/>
<circle cx="499.2" cy="638.8" r="3.1" fill="#1c1c1c"/>
<line x1="50.3" y1="736.5" x2="141.8" y2="736.5" stroke="#b4b4b4" stroke-width="1.0"/>
<line x1="45.6" y1="687.4" x2="48.1" y2="687.4" stroke="#666" stroke-width="0.8"/>
<text x="43" y="692" class="t">0.9</text>
<line x1="45.6" y1="703.98" x2="48.1" y2="703.98" stroke="#666" stroke-width="0.8"/>
<text x="43" y="708.58" class="t">0.6</text>
<line x1="45.6" y1="720.56" x2="48.1" y2="720.56" stroke="#666" stroke-width="0.8"/>
<text x="43" y="725.16" class="t">0.3</text>
<line x1="45.6" y1="737.14" x2="48.1" y2="737.14" stroke="#666" stroke-width="0.8"/>
<text x="43" y="741.74" class="t">0.0</text>
<line x1="45.6" y1="753.72" x2="48.1" y2="753.72" stroke="#666" stroke-width="0.8"/>
<text x="43" y="758.32" class="t">-0.3</text>
<line x1="45.6" y1="770.3" x2="48.1" y2="770.3" stroke="#666" stroke-width="0.8"/>
<text x="43" y="774.9" class="t">-0.6</text>
<rect x="49.2" y="687.4" width="93.7" height="82.9" fill="none" stroke="#222" stroke-width="2.2"/>
<text x="90.4" y="702.57" class="tt" style="font-size:12px" textLength="45" lengthAdjust="spacingAndGlyphs">K6IRS2</text>
<polyline points="65.1,708.7 96.8,736.5 127.4,736.5" fill="none" stroke="#7e7e7e" stroke-width="1.6" stroke-linejoin="round"/>
<path d="M65.1 705.8L68 708.7L65.1 711.6L62.2 708.7Z" fill="#fff" stroke="#505050" stroke-width="1.3"/>
<path d="M96.8 733.6L99.7 736.5L96.8 739.4L93.9 736.5Z" fill="#fff" stroke="#505050" stroke-width="1.3"/>
<path d="M127.4 733.6L130.3 736.5L127.4 739.4L124.5 736.5Z" fill="#fff" stroke="#505050" stroke-width="1.3"/>
<polyline points="64.8,736.5 96.8,758.6 127.1,752.9" fill="none" stroke="#1c1c1c" stroke-width="2.15" stroke-linejoin="round"/>
<circle cx="64.8" cy="736.5" r="3.1" fill="#1c1c1c"/>
<circle cx="96.8" cy="758.6" r="3.1" fill="#1c1c1c"/>
<circle cx="127.1" cy="752.9" r="3.1" fill="#1c1c1c"/>
<line x1="175.4" y1="736.5" x2="266.3" y2="736.5" stroke="#b4b4b4" stroke-width="1.0"/>
<line x1="170.7" y1="687.9" x2="173.2" y2="687.9" stroke="#666" stroke-width="0.8"/>
<text x="169.6" y="692.5" class="t">0.9</text>
<line x1="170.7" y1="704.16" x2="173.2" y2="704.16" stroke="#666" stroke-width="0.8"/>
<text x="169.6" y="708.76" class="t">0.6</text>
<line x1="170.7" y1="720.42" x2="173.2" y2="720.42" stroke="#666" stroke-width="0.8"/>
<text x="169.6" y="725.02" class="t">0.3</text>
<line x1="170.7" y1="736.68" x2="173.2" y2="736.68" stroke="#666" stroke-width="0.8"/>
<text x="169.6" y="741.28" class="t">0.0</text>
<line x1="170.7" y1="752.94" x2="173.2" y2="752.94" stroke="#666" stroke-width="0.8"/>
<text x="169.6" y="757.54" class="t">-0.3</text>
<line x1="170.7" y1="769.2" x2="173.2" y2="769.2" stroke="#666" stroke-width="0.8"/>
<text x="169.6" y="773.8" class="t">-0.6</text>
<rect x="174.3" y="687.9" width="93.1" height="81.3" fill="none" stroke="#222" stroke-width="2.2"/>
<text x="226.4" y="704.62" class="tt" style="font-size:12px" textLength="30.6" lengthAdjust="spacingAndGlyphs">LEF1</text>
<polyline points="189.5,705.4 220.8,712.6 251.8,724.3" fill="none" stroke="#7e7e7e" stroke-width="1.6" stroke-linejoin="round"/>
<path d="M189.5 702.5L192.4 705.4L189.5 708.3L186.6 705.4Z" fill="#fff" stroke="#505050" stroke-width="1.3"/>
<path d="M220.8 709.7L223.7 712.6L220.8 715.5L217.9 712.6Z" fill="#fff" stroke="#505050" stroke-width="1.3"/>
<path d="M251.8 721.4L254.7 724.3L251.8 727.2L248.9 724.3Z" fill="#fff" stroke="#505050" stroke-width="1.3"/>
<polyline points="189.3,736 220.5,752.1 251.6,746.4" fill="none" stroke="#1c1c1c" stroke-width="2.15" stroke-linejoin="round"/>
<circle cx="189.3" cy="736" r="3.1" fill="#1c1c1c"/>
<circle cx="220.5" cy="752.1" r="3.1" fill="#1c1c1c"/>
<circle cx="251.6" cy="746.4" r="3.1" fill="#1c1c1c"/>
<line x1="299.2" y1="742.5" x2="389.6" y2="742.5" stroke="#b4b4b4" stroke-width="1.0"/>
<line x1="294.5" y1="687.9" x2="297" y2="687.9" stroke="#666" stroke-width="0.8"/>
<text x="292.5" y="692.5" class="t">0.6</text>
<line x1="294.5" y1="715.27" x2="297" y2="715.27" stroke="#666" stroke-width="0.8"/>
<text x="292.5" y="719.87" class="t">0.3</text>
<line x1="294.5" y1="742.63" x2="297" y2="742.63" stroke="#666" stroke-width="0.8"/>
<text x="292.5" y="747.23" class="t">0.0</text>
<line x1="294.5" y1="770" x2="297" y2="770" stroke="#666" stroke-width="0.8"/>
<text x="292.5" y="774.6" class="t">-0.3</text>
<rect x="298.1" y="687.9" width="92.6" height="82.1" fill="none" stroke="#222" stroke-width="2.2"/>
<text x="346" y="704.52" class="tt" style="font-size:12px" textLength="39.6" lengthAdjust="spacingAndGlyphs">S100B</text>
<polyline points="314.6,697.6 344.8,733.9 375.1,732.1" fill="none" stroke="#7e7e7e" stroke-width="1.6" stroke-linejoin="round"/>
<path d="M314.6 694.7L317.5 697.6L314.6 700.5L311.7 697.6Z" fill="#fff" stroke="#505050" stroke-width="1.3"/>
<path d="M344.8 731L347.7 733.9L344.8 736.8L341.9 733.9Z" fill="#fff" stroke="#505050" stroke-width="1.3"/>
<path d="M375.1 729.2L378 732.1L375.1 735L372.2 732.1Z" fill="#fff" stroke="#505050" stroke-width="1.3"/>
<polyline points="314.4,743 344.6,743.8 374.9,739.4" fill="none" stroke="#1c1c1c" stroke-width="2.15" stroke-linejoin="round"/>
<circle cx="314.4" cy="743" r="3.1" fill="#1c1c1c"/>
<circle cx="344.6" cy="743.8" r="3.1" fill="#1c1c1c"/>
<circle cx="374.9" cy="739.4" r="3.1" fill="#1c1c1c"/>
<line x1="422.9" y1="729" x2="513.9" y2="729" stroke="#b4b4b4" stroke-width="1.0"/>
<line x1="418.2" y1="689" x2="420.7" y2="689" stroke="#666" stroke-width="0.8"/>
<text x="417.5" y="693.6" class="t">0.6</text>
<line x1="418.2" y1="709.5" x2="420.7" y2="709.5" stroke="#666" stroke-width="0.8"/>
<text x="417.5" y="714.1" class="t">0.3</text>
<line x1="418.2" y1="730" x2="420.7" y2="730" stroke="#666" stroke-width="0.8"/>
<text x="417.5" y="734.6" class="t">0.0</text>
<line x1="418.2" y1="750.5" x2="420.7" y2="750.5" stroke="#666" stroke-width="0.8"/>
<text x="417.5" y="755.1" class="t">-0.3</text>
<line x1="418.2" y1="771" x2="420.7" y2="771" stroke="#666" stroke-width="0.8"/>
<text x="417.5" y="775.6" class="t">-0.6</text>
<rect x="421.8" y="689" width="93.2" height="82" fill="none" stroke="#222" stroke-width="2.2"/>
<text x="449.8" y="704.52" class="tt" style="font-size:12px" textLength="59.5" lengthAdjust="spacingAndGlyphs">HRMT1L1</text>
<polyline points="438.2,698.9 468.3,743 499.4,736" fill="none" stroke="#7e7e7e" stroke-width="1.6" stroke-linejoin="round"/>
<path d="M438.2 696L441.1 698.9L438.2 701.8L435.3 698.9Z" fill="#fff" stroke="#505050" stroke-width="1.3"/>
<path d="M468.3 740.1L471.2 743L468.3 745.9L465.4 743Z" fill="#fff" stroke="#505050" stroke-width="1.3"/>
<path d="M499.4 733.1L502.3 736L499.4 738.9L496.5 736Z" fill="#fff" stroke="#505050" stroke-width="1.3"/>
<polyline points="438.2,729 468.1,752.4 499.2,737.3" fill="none" stroke="#1c1c1c" stroke-width="2.15" stroke-linejoin="round"/>
<circle cx="438.2" cy="729" r="3.1" fill="#1c1c1c"/>
<circle cx="468.1" cy="752.4" r="3.1" fill="#1c1c1c"/>
<circle cx="499.2" cy="737.3" r="3.1" fill="#1c1c1c"/>
<rect x="147.5" y="280" width="5.9" height="38" fill="#fff"/>
<text transform="translate(62.9 795.6) scale(1.12 1)" class="xl">0</text>
<text transform="translate(96.6 795.6) scale(1.12 1)" class="xl">16</text>
<text transform="translate(130 795.6) scale(1.12 1)" class="xl">72</text>
<text transform="translate(189.4 795.6) scale(1.12 1)" class="xl">0</text>
<text transform="translate(219.5 795.6) scale(1.12 1)" class="xl">16</text>
<text transform="translate(252.4 795.6) scale(1.12 1)" class="xl">72</text>
<text transform="translate(311.9 795.6) scale(1.12 1)" class="xl">0</text>
<text transform="translate(342.25 795.6) scale(1.12 1)" class="xl">16</text>
<text transform="translate(375 795.6) scale(1.12 1)" class="xl">72</text>
<text transform="translate(438.6 795.6) scale(1.12 1)" class="xl">0</text>
<text transform="translate(468.6 795.6) scale(1.12 1)" class="xl">16</text>
<text transform="translate(497.5 795.6) scale(1.12 1)" class="xl">72</text>
<text x="24" y="21.5" class="sec">A</text>
<text x="23" y="346" class="sec">B</text>
<text x="18" y="575.5" class="sec">C</text>
<text x="241.6" y="814.3" class="ax" style="font-size:14.5px" textLength="81.6" lengthAdjust="spacingAndGlyphs">Time (hour)</text>
<line x1="100.1" y1="832.8" x2="153.3" y2="832.8" stroke="#7a7a7a" stroke-width="1.5"/>
<path d="M100.1 830.3L102.6 832.8L100.1 835.3L97.6 832.8Z" fill="#fff" stroke="#444" stroke-width="1.2"/>
<path d="M153.3 830.3L155.8 832.8L153.3 835.3L150.8 832.8Z" fill="#fff" stroke="#444" stroke-width="1.2"/>
<text x="182.4" y="838.3" class="ax" style="font-size:15px" textLength="39" lengthAdjust="spacingAndGlyphs">Naive</text>
<line x1="311.6" y1="832.8" x2="363.8" y2="832.8" stroke="#1c1c1c" stroke-width="2.4"/>
<circle cx="311.6" cy="832.8" r="2.7" fill="#1c1c1c"/>
<circle cx="363.8" cy="832.8" r="2.7" fill="#1c1c1c"/>
<text x="389.4" y="837.3" class="ax" style="font-size:15px" textLength="56" lengthAdjust="spacingAndGlyphs">Memory</text>
<g transform="translate(15 553.8) rotate(-90)"><text x="0" y="0" class="yl" textLength="247.6" lengthAdjust="spacingAndGlyphs">Relative Expression Level (log</text><text x="248.2" y="5.8" class="yl" style="font-size:11.5px" textLength="13.2" lengthAdjust="spacingAndGlyphs">10</text><text x="261.2" y="0" class="yl">)</text></g>
</g></svg>
</body></html>
